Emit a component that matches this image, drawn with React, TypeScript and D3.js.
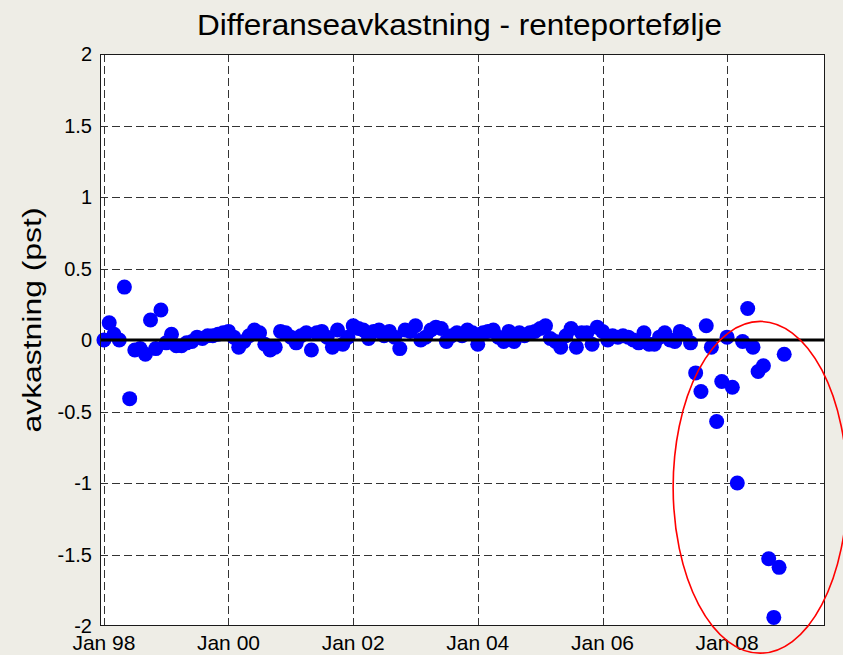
import React, { useRef, useEffect } from "react";
import * as d3 from "d3";

// monthly excess return (pst), one array per year, Jan..Dec
const values1998 = [0.0, 0.12, 0.04, 0.0, 0.37, -0.41, -0.07, -0.06, -0.1, 0.14, -0.06, 0.21];
const values1999 = [-0.02, 0.04, -0.04, -0.04, -0.02, -0.01, 0.02, 0.01, 0.03, 0.03, 0.04, 0.05];
const values2000 = [0.06, 0.02, -0.05, -0.01, 0.03, 0.07, 0.05, -0.03, -0.07, -0.05, 0.06, 0.05];
const values2001 = [0.02, -0.02, 0.03, 0.05, -0.07, 0.05, 0.06, 0.02, -0.05, 0.07, -0.03, 0.02];
const values2002 = [0.1, 0.08, 0.07, 0.01, 0.06, 0.07, 0.03, 0.06, 0.02, -0.06, 0.07, 0.06];
const values2003 = [0.1, 0.0, 0.02, 0.07, 0.09, 0.08, -0.01, 0.03, 0.05, 0.03, 0.07, 0.05];
const values2004 = [-0.03, 0.05, 0.06, 0.07, 0.02, -0.01, 0.06, -0.01, 0.05, 0.03, 0.05, 0.06];
const values2005 = [0.08, 0.1, 0.01, -0.01, -0.05, 0.03, 0.08, -0.05, 0.05, 0.05, -0.03, 0.09];
const values2006 = [0.06, 0.0, 0.03, 0.02, 0.03, 0.02, 0.0, -0.02, 0.05, -0.03, -0.03, 0.02];
const values2007 = [0.05, 0.0, -0.01, 0.06, 0.04, -0.02, -0.23, -0.36, 0.1, -0.05, -0.57, -0.29];
const values2008 = [0.02, -0.33, -1.0, -0.01, 0.22, -0.05, -0.22, -0.18, -1.53, -1.94, -1.59, -0.1];

const firstYear = 1998;
const yearly = [values1998, values1999, values2000, values2001, values2002, values2003,
  values2004, values2005, values2006, values2007, values2008];

const yTicks = [-2, -1.5, -1, -0.5, 0, 0.5, 1, 1.5, 2];
const xTickYears = [1998, 2000, 2002, 2004, 2006, 2008];

const titleText = "Differanseavkastning - renteportefølje";
const yLabelText = "avkastning (pst)";

// red ring drawn round the 2007-2008 points
const ringX = [new Date(2007, 1, 19), new Date(2009, 11, 6)];
const ringY = [-2.19, 0.13];

const W = 843;
const H = 655;
const margin = { top: 54, right: 18, bottom: 29, left: 100 };

const Chart = () => {
  const ref = useRef<SVGSVGElement>(null);

  useEffect(() => {
    const svg = d3.select(ref.current);
    svg.selectAll("*").remove();

    const points = yearly.flatMap((vals, yi) =>
      vals.map((v, m) => ({ date: new Date(firstYear + yi, m, 1), value: v }))
    );

    const x = d3
      .scaleTime()
      .domain([new Date(1997, 11, 9), new Date(2009, 6, 28)])
      .range([margin.left, W - margin.right]);
    const y = d3.scaleLinear().domain([-2, 2]).range([H - margin.bottom, margin.top]);

    const font = "'Liberation Sans', Arial, sans-serif";

    svg.append("rect").attr("width", W).attr("height", H).attr("fill", "#eeede6");
    svg
      .append("rect")
      .attr("x", margin.left)
      .attr("y", margin.top)
      .attr("width", W - margin.left - margin.right)
      .attr("height", H - margin.top - margin.bottom)
      .attr("fill", "#fff");

    const grid = svg.append("g").attr("stroke", "#333").attr("stroke-dasharray", "8,4");
    xTickYears.forEach((yr) => {
      const xv = Math.round(x(new Date(yr, 0, 1))) + 0.5;
      grid.append("line").attr("x1", xv).attr("x2", xv)
        .attr("y1", margin.top).attr("y2", H - margin.bottom);
    });
    yTicks.filter((t) => Math.abs(t) < 2 && t !== 0).forEach((t) => {
      const yv = Math.round(y(t)) + 0.5;
      grid.append("line").attr("x1", margin.left).attr("x2", W - margin.right)
        .attr("y1", yv).attr("y2", yv);
    });

    svg
      .append("g")
      .selectAll("circle")
      .data(points)
      .enter()
      .append("circle")
      .attr("cx", (d) => x(d.date))
      .attr("cy", (d) => y(d.value))
      .attr("r", 7.5)
      .attr("fill", "#0000ff");

    svg.append("line")
      .attr("x1", margin.left).attr("x2", W - margin.right)
      .attr("y1", y(0)).attr("y2", y(0))
      .attr("stroke", "#000").attr("stroke-width", 3);

    svg.append("rect")
      .attr("x", margin.left + 0.5)
      .attr("y", margin.top + 0.5)
      .attr("width", W - margin.left - margin.right - 1)
      .attr("height", H - margin.top - margin.bottom - 1)
      .attr("fill", "none")
      .attr("stroke", "#1a1a1a");

    // tick labels
    svg.append("g").selectAll("text").data(yTicks).enter().append("text")
      .attr("x", 92).attr("y", (d) => y(d)).attr("dy", "0.35em")
      .attr("text-anchor", "end")
      .style("font", `20px ${font}`)
      .text((d) => String(d));

    const fmt = d3.timeFormat("%b %y");
    svg.append("g").selectAll("text").data(xTickYears).enter().append("text")
      .attr("x", (d) => x(new Date(d, 0, 1))).attr("y", 650)
      .attr("text-anchor", "middle")
      .style("font", `21px ${font}`)
      .text((d) => fmt(new Date(d, 0, 1)));

    svg.append("text")
      .attr("x", 459.5).attr("y", 35)
      .attr("text-anchor", "middle")
      .attr("textLength", 525).attr("lengthAdjust", "spacingAndGlyphs")
      .style("font", `30px ${font}`)
      .text(titleText);

    svg.append("text")
      .attr("transform", "translate(41,320) rotate(-90)")
      .attr("text-anchor", "middle")
      .attr("textLength", 225).attr("lengthAdjust", "spacingAndGlyphs")
      .style("font", `25px ${font}`)
      .text(yLabelText);

    const x0 = x(ringX[0]), x1 = x(ringX[1]);
    const y0 = y(ringY[1]), y1 = y(ringY[0]);
    svg.append("ellipse")
      .attr("cx", (x0 + x1) / 2).attr("cy", (y0 + y1) / 2)
      .attr("rx", (x1 - x0) / 2).attr("ry", (y1 - y0) / 2)
      .attr("fill", "none").attr("stroke", "#ff0000").attr("stroke-width", 1.6);
  }, []);

  return (
    <svg ref={ref} width={W} height={H}
      style={{ position: "absolute", left: 0, top: 0, display: "block" }} />
  );
};

export default function App() {
  return <Chart />;
}
